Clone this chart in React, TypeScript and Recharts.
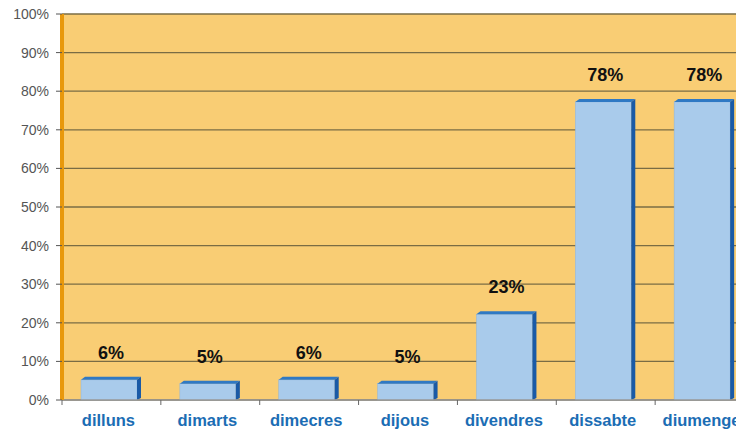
import React from 'react';
import { BarChart, Bar, XAxis, YAxis, CartesianGrid, LabelList } from 'recharts';

const days = ['dilluns', 'dimarts', 'dimecres', 'dijous', 'divendres', 'dissabte', 'diumenge'];
const shares = [6, 5, 6, 5, 23, 78, 78];
const yTicks = [0, 10, 20, 30, 40, 50, 60, 70, 80, 90, 100];

const data = days.map((day, i) => ({ day, value: shares[i] }));

const CHART_W = 760;
const CHART_H = 430;
const MARGIN = { top: 14, right: 6, bottom: 0, left: 0 };
const Y_AXIS_W = 62;
const PLOT_W = CHART_W - MARGIN.left - MARGIN.right - Y_AXIS_W;
const STEP = PLOT_W / days.length;

const DEPTH = 4;

// Bar with a light front face, a dark blue top bevel and a dark blue right side
const Bar3D = (props: any) => {
  const { x, y, width, height } = props;
  if (height <= 0) return null;
  const fx = x;
  const fw = width - DEPTH;
  const bottom = y + height;
  const top = y + 3;
  return (
    <g>
      <rect x={fx} y={top} width={fw} height={bottom - top} fill="#a9cbeb" stroke="#8fb4da" strokeWidth={0.5} />
      <polygon
        points={`${fx},${top} ${fx + DEPTH},${y} ${fx + width},${y} ${fx + fw},${top}`}
        fill="#2f79c4"
      />
      <polygon
        points={`${fx + fw},${top} ${fx + width},${y} ${fx + width},${bottom - 2} ${fx + fw},${bottom}`}
        fill="#1a5aa6"
      />
    </g>
  );
};

// Category label under the bar, with a tick mark on the left band boundary
const DayTick = (props: any) => {
  const { x, y, payload } = props;
  const bx = x - STEP / 2;
  return (
    <g>
      <line x1={bx} y1={y - 8} x2={bx} y2={y - 3} stroke="#666" strokeWidth={1} />
      <text
        x={x - 3}
        y={y + 18}
        textAnchor="middle"
        fill="#1b6db4"
        fontSize={16.5}
        fontWeight="bold"
        fontFamily="Liberation Sans, Arial, sans-serif"
      >
        {payload.value}
      </text>
    </g>
  );
};

export default function App() {
  return (
    <div style={{ width: 744, height: 430, overflow: 'hidden', margin: '-8px 0 0 -8px' }}>
      <BarChart width={CHART_W} height={CHART_H} data={data} margin={MARGIN} barCategoryGap={0}>
        <CartesianGrid
          horizontal
          vertical={false}
          fill="#f9cd74"
          stroke="#7a6c44"
          strokeWidth={1.3}
          fillOpacity={1}
        />
        <XAxis
          dataKey="day"
          interval={0}
          height={30}
          tickLine={false}
          axisLine={{ stroke: '#9a9a9a', strokeWidth: 1.5 }}
          tick={<DayTick />}
        />
        <YAxis
          width={Y_AXIS_W}
          domain={[0, 100]}
          ticks={yTicks}
          interval={0}
          tickFormatter={(v: number) => `${v}%`}
          axisLine={{ stroke: '#e8980c', strokeWidth: 4 }}
          tickLine={{ stroke: '#555' }}
          tickSize={6}
          tickMargin={7}
          tick={{ fill: '#555', fontSize: 14, fontFamily: 'Liberation Sans, Arial, sans-serif' }}
        />
        <Bar dataKey="value" barSize={60} shape={<Bar3D />} isAnimationActive={false}>
          <LabelList
            dataKey="value"
            position="top"
            offset={18}
            formatter={(v: number) => `${v}%`}
            fill="#111"
            fontSize={18}
            fontWeight="bold"
            fontFamily="Liberation Sans, Arial, sans-serif"
          />
        </Bar>
      </BarChart>
    </div>
  );
}
